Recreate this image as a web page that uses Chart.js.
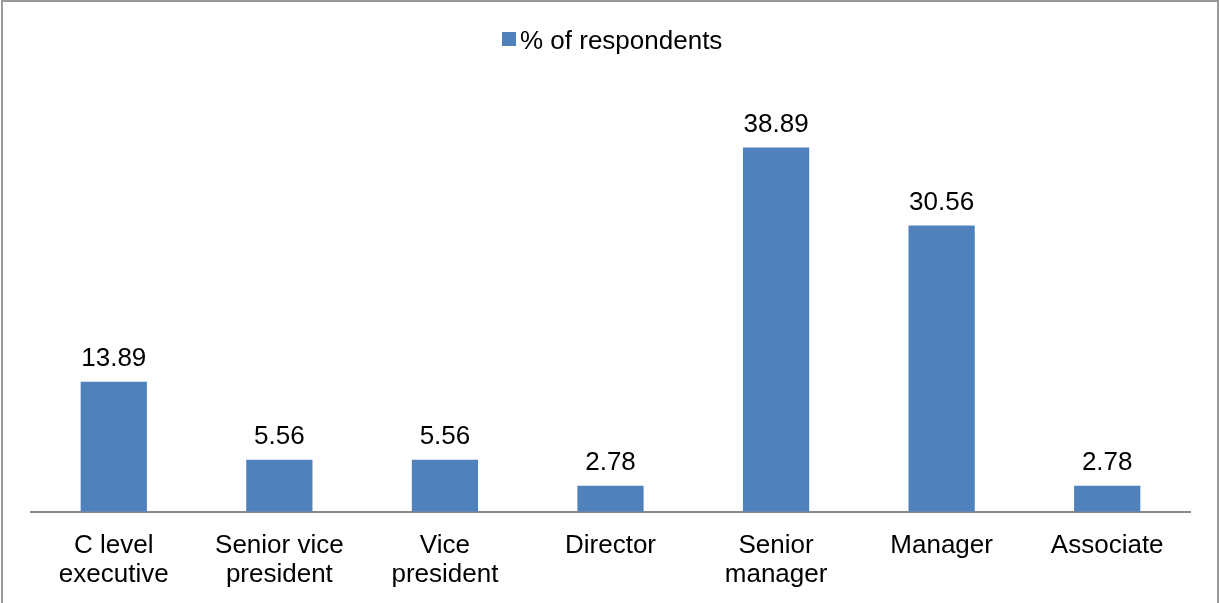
<!DOCTYPE html>
<html>
<head>
<meta charset="utf-8">
<script src="https://cdn.jsdelivr.net/npm/chart.js@4"></script>
<style>
  html, body { margin: 0; padding: 0; background: #fff; overflow: hidden; }
  #wrap { position: relative; width: 1220px; height: 603px; }
  #frame {
    position: absolute; left: 1px; top: 0; width: 1218px; height: 640px;
    box-sizing: border-box; border: 2px solid #999; pointer-events: none;
  }
</style>
</head>
<body>
<div id="wrap">
  <canvas id="chart" width="1220" height="603"></canvas>
  <div id="frame"></div>
</div>
<script>
// chart values
const categories = [
    ['C level', 'executive'],
    ['Senior vice', 'president'],
    ['Vice', 'president'],
    'Director',
    ['Senior', 'manager'],
    'Manager',
    'Associate'
];
const seriesName = '% of respondents';
const respondents = [13.89, 5.56, 5.56, 2.78, 38.89, 30.56, 2.78];

const FONT = '"Liberation Sans", Arial, sans-serif';
const BAR_COLOR = '#4F81BD';

// value above each bar + a tight legend like the office chart
const valueLabels = {
    id: 'valueLabels',
    afterDatasetsDraw(chart) {
        const ctx = chart.ctx;
        ctx.save();
        ctx.fillStyle = '#000';
        ctx.font = '26px ' + FONT;
        ctx.textAlign = 'center';
        ctx.textBaseline = 'alphabetic';
        chart.getDatasetMeta(0).data.forEach((bar, i) => {
            ctx.fillText(respondents[i].toFixed(2), bar.x, bar.y - 16);
        });

        // legend
        ctx.textAlign = 'left';
        const textW = ctx.measureText(seriesName).width;
        const total = 14 + 4 + textW;
        const x0 = Math.round((chart.width - total) / 2) + 2;
        ctx.fillStyle = BAR_COLOR;
        ctx.fillRect(x0, 32, 14, 14);
        ctx.fillStyle = '#000';
        ctx.fillText(seriesName, x0 + 18, 49);
        ctx.restore();
    }
};

new Chart(document.getElementById('chart'), {
    type: 'bar',
    data: {
        labels: categories,
        datasets: [{
            label: seriesName,
            data: respondents,
            backgroundColor: BAR_COLOR,
            categoryPercentage: 1,
            barPercentage: 0.4
        }]
    },
    options: {
        responsive: false,
        animation: false,
        layout: { padding: { left: 31, right: 30, top: 65, bottom: 2 } },
        plugins: {
            legend: { display: false },
            tooltip: { enabled: false }
        },
        scales: {
            x: {
                grid: { display: false },
                border: { display: true, color: '#898989', width: 2 },
                ticks: {
                    color: '#000',
                    maxRotation: 0,
                    autoSkip: false,
                    padding: 12,
                    font: { family: FONT, size: 26, lineHeight: 1.1 }
                }
            },
            y: {
                display: false,
                min: 0,
                max: 47.7
            }
        }
    },
    plugins: [valueLabels]
});
</script>
</body>
</html>
